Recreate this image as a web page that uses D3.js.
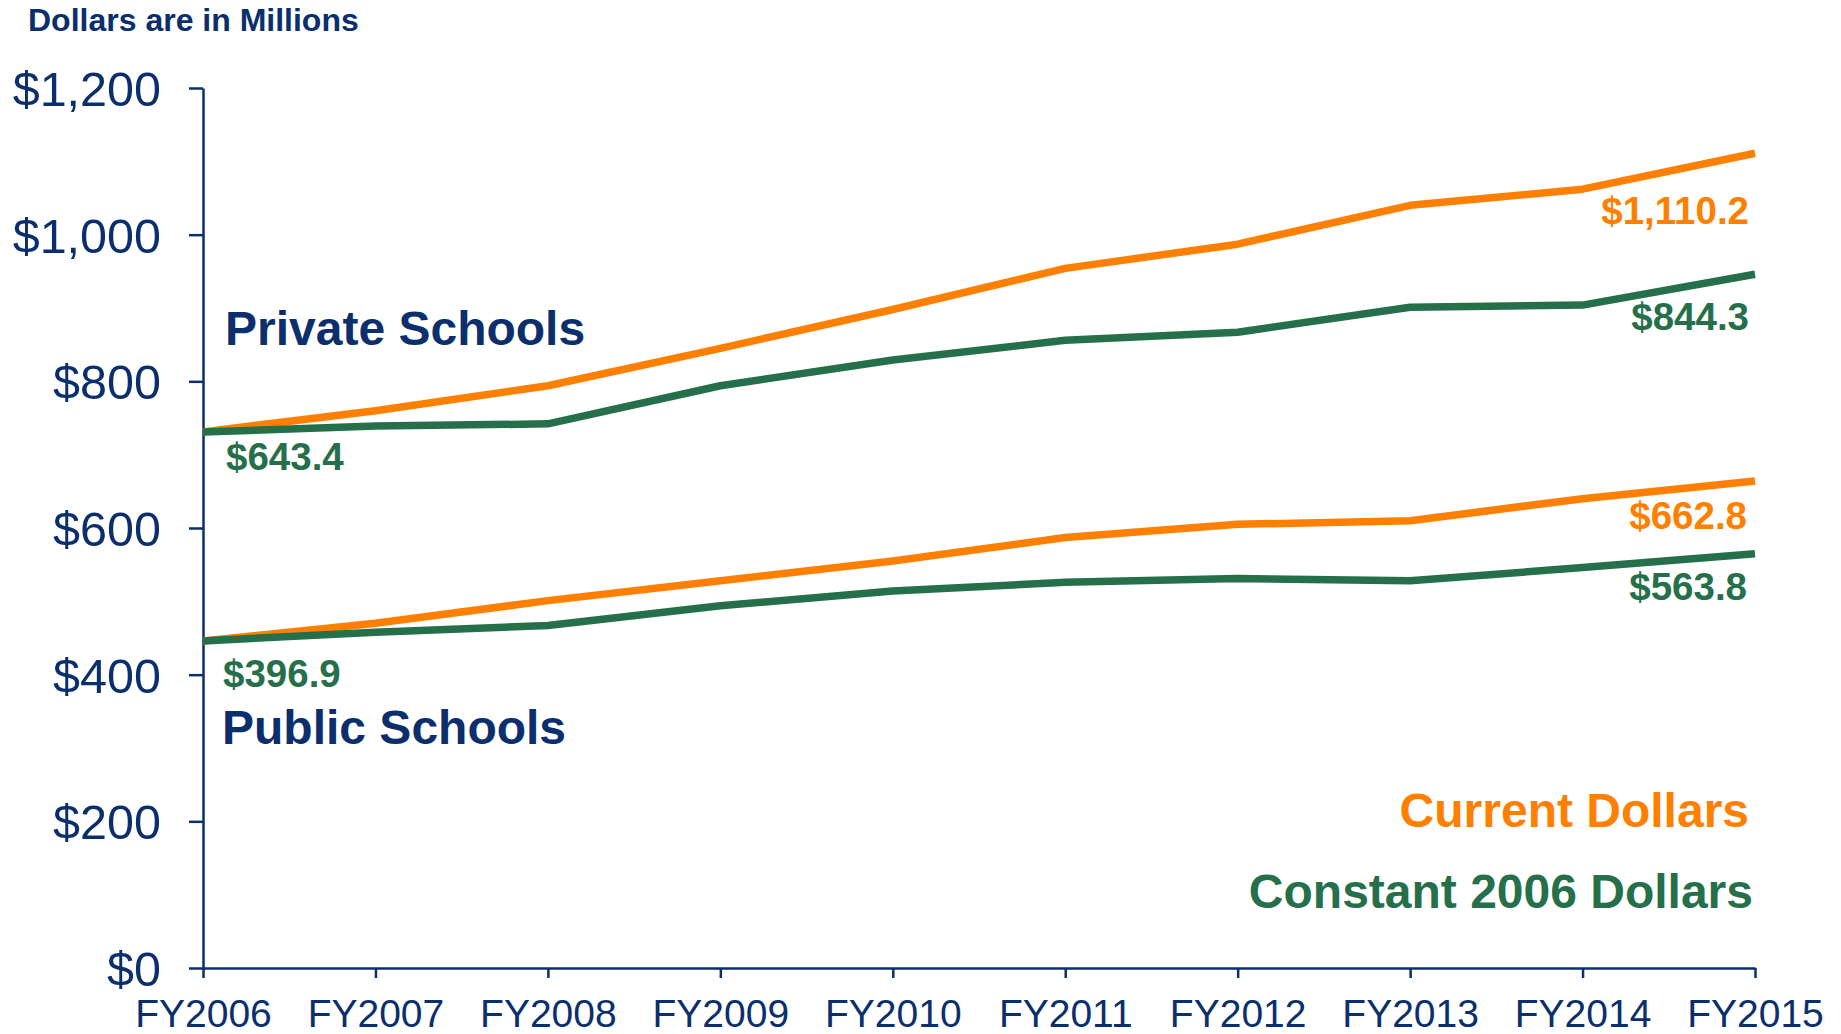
<!DOCTYPE html>
<html>
<head>
<meta charset="utf-8">
<script src="https://cdn.jsdelivr.net/npm/d3@7"></script>
<style>
  html, body { margin: 0; padding: 0; background: #ffffff; }
  svg { display: block; font-family: "Liberation Sans", Arial, sans-serif; }
</style>
</head>
<body>
<svg id="chart" width="1841" height="1034"></svg>
<script>
// ---- data ----
const years = ["FY2006","FY2007","FY2008","FY2009","FY2010","FY2011","FY2012","FY2013","FY2014","FY2015"];
const privateCurrent  = [731, 760, 794, 845, 898, 954, 987, 1040, 1062, 1111];
const privateConstant = [731, 739, 742, 794, 829, 856, 867, 901, 904, 946];
const publicCurrent   = [446, 470, 501, 528, 555, 587, 605, 610, 640, 664];
const publicConstant  = [446, 458, 467, 494, 514, 526, 531, 528, 546, 565];
const yTicks = [0, 200, 400, 600, 800, 1000, 1200];

const privateStartLabel = "$643.4";
const publicStartLabel  = "$396.9";
const privateCurrentEndLabel  = "$1,110.2";
const privateConstantEndLabel = "$844.3";
const publicCurrentEndLabel   = "$662.8";
const publicConstantEndLabel  = "$563.8";

// ---- style ----
const NAVY = "#0b2e6c", ORANGE = "#ff8000", GREEN = "#25704a";

const svg = d3.select("#chart");
const x = d3.scalePoint().domain(years).range([203, 1755]);
const y = d3.scaleLinear().domain([0, 1200]).range([968, 88]);

// y axis
const yAxis = svg.append("g").attr("transform", "translate(203,0)")
  .call(d3.axisLeft(y).tickValues(yTicks).tickSize(14).tickSizeOuter(0).tickPadding(28)
        .tickFormat(d => "$" + d3.format(",")(d)));
yAxis.selectAll("path, line").attr("stroke", NAVY).attr("stroke-width", 2.5);
yAxis.selectAll("text").attr("fill", NAVY).attr("font-size", 48.5)
  .attr("font-family", "Liberation Sans, Arial, sans-serif").attr("dy", "0.36em");

// x axis
const xAxis = svg.append("g").attr("transform", "translate(0,968)")
  .call(d3.axisBottom(x).tickSize(10).tickSizeOuter(0).tickPadding(4));
xAxis.selectAll("path, line").attr("stroke", NAVY).attr("stroke-width", 2.5);
xAxis.selectAll("text").attr("fill", NAVY).attr("font-size", 39)
  .attr("font-family", "Liberation Sans, Arial, sans-serif")
  .attr("y", 59).attr("dy", 0);

// lines
const line = d3.line().x((d, i) => x(years[i])).y(d => y(d));
const series = [
  { v: privateCurrent, c: ORANGE },
  { v: publicCurrent, c: ORANGE },
  { v: privateConstant, c: GREEN },
  { v: publicConstant, c: GREEN }
];
svg.append("g").selectAll("path").data(series).join("path")
  .attr("d", d => line(d.v))
  .attr("fill", "none")
  .attr("stroke", d => d.c)
  .attr("stroke-width", 7.5)
  .attr("stroke-linejoin", "round")
  .attr("stroke-linecap", "butt");

// text annotations
function txt(str, tx, ty, size, color, anchor) {
  svg.append("text").text(str)
    .attr("x", tx).attr("y", ty)
    .attr("font-size", size).attr("font-weight", "bold")
    .attr("fill", color).attr("text-anchor", anchor || "start");
}
const last = years.length - 1;
txt("Dollars are in Millions", 28, 31, 32, NAVY);
txt("Private Schools", 225, 345, 48, NAVY);
txt("Public Schools", 222, 744, 48, NAVY);

txt(privateStartLabel, x(years[0]) + 23, y(privateConstant[0]) + 38, 38.5, GREEN);
txt(publicStartLabel,  x(years[0]) + 20, y(publicConstant[0]) + 46, 38.5, GREEN);
txt(privateCurrentEndLabel,  x(years[last]) - 6, y(privateCurrent[last]) + 71, 38.5, ORANGE, "end");
txt(privateConstantEndLabel, x(years[last]) - 6, y(privateConstant[last]) + 56, 38.5, GREEN, "end");
txt(publicCurrentEndLabel,   x(years[last]) - 8, y(publicCurrent[last]) + 48, 38.5, ORANGE, "end");
txt(publicConstantEndLabel,  x(years[last]) - 8, y(publicConstant[last]) + 46, 38.5, GREEN, "end");

txt("Current Dollars", 1749, 827, 48, ORANGE, "end");
txt("Constant 2006 Dollars", 1753, 908, 48, GREEN, "end");
</script>
</body>
</html>
